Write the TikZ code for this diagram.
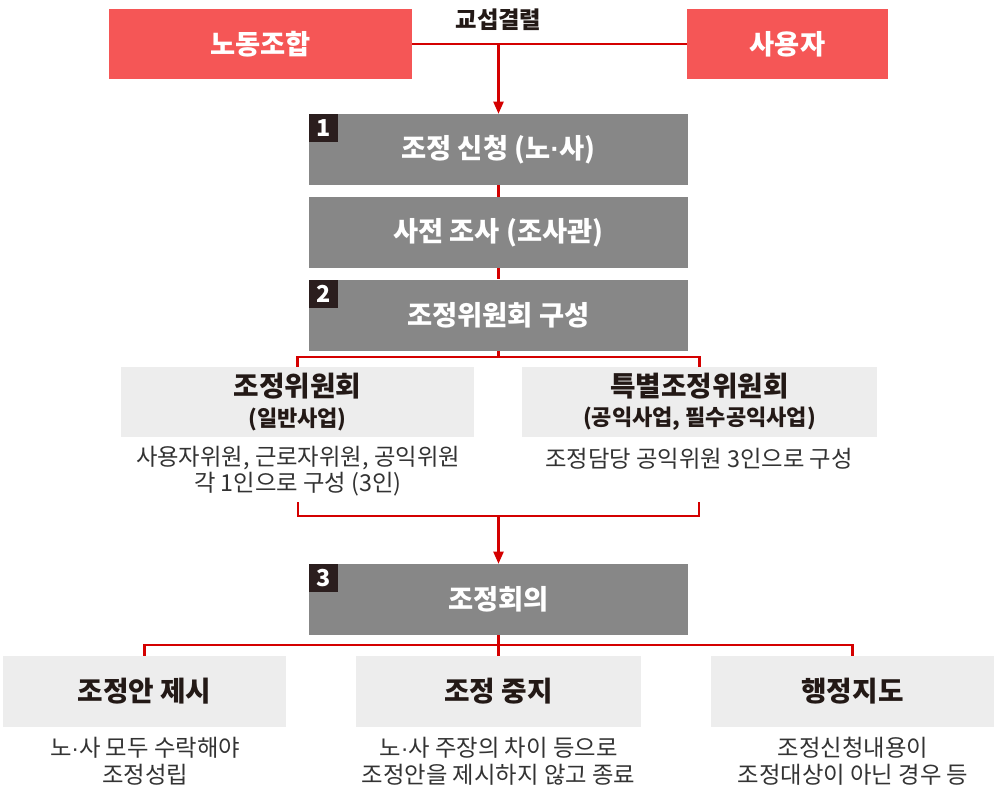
\documentclass[tikz,border=0pt]{standalone}
\usepackage{fontspec}
\setmainfont{Noto Sans CJK KR}
\newfontfamily\latinfont{Liberation Sans}
\newcommand{\mdot}{{\latinfont ·}}
\usetikzlibrary{arrows.meta}
\definecolor{boxred}{HTML}{F55656}
\definecolor{boxgray}{HTML}{878787}
\definecolor{boxlight}{HTML}{EDEDED}
\definecolor{badgecol}{HTML}{2B1E1E}
\definecolor{linered}{HTML}{D40000}
\definecolor{titlecol}{HTML}{231916}
\definecolor{desccol}{HTML}{333333}
\tikzset{
  redbox/.style={fill=boxred, text=white, font=\fontsize{20.5}{24}\selectfont\bfseries, minimum height=52.5pt, inner sep=0pt},
  graybox/.style={fill=boxgray, text=white, font=\fontsize{20.5}{24}\selectfont\bfseries, minimum width=284.25pt, minimum height=53.25pt, inner sep=0pt},
  lightbox/.style={fill=boxlight, text=titlecol, font=\fontsize{20.8}{25}\selectfont\bfseries, minimum height=52.5pt, inner sep=0pt, align=center},
  badge/.style={fill=badgecol, text=white, font=\fontsize{17.5}{17.5}\selectfont\bfseries, minimum width=21.75pt, minimum height=21pt, inner sep=0pt, anchor=north west},
  desc/.style={text=desccol, font=\fontsize{17.5}{19.5}\selectfont, align=center, inner sep=0pt},
  redline/.style={draw=linered, line width=1.6pt},
  redarrow/.style={redline, -{Triangle[length=9pt,width=7.5pt]}},
}
\begin{document}
\begin{tikzpicture}[x=0.75pt,y=-0.75pt]
\useasboundingbox (0,0) rectangle (997,801);
% top
\node[redbox, minimum width=227.25pt] (union) at (260.5,44) {노동조합};
\node[redbox, minimum width=150.75pt] (employer) at (787.5,44) {사용자};
\node[font=\fontsize{17.5}{20}\selectfont\bfseries, text=titlecol, inner sep=0pt] (fail) at (498.5,20) {교섭결렬};
\coordinate (j0) at (498.5,44);
% main steps
\node[graybox] (b1) at (498.5,149.5) {조정 신청 (노\mdot 사)};
\node[graybox] (b2) at (498.5,232.5) {사전 조사 (조사관)};
\node[graybox] (b3) at (498.5,315) {조정위원회 구성};
\node[badge] (n1) at (b1.north west) {1};
\node[badge] (n2) at (b3.north west) {2};
% committees
\node[lightbox, minimum width=264.75pt] (c1) at (297.5,402) {조정위원회\\[-3pt]{\fontsize{16.5}{19}\selectfont (일반사업)}};
\node[lightbox, minimum width=266.25pt] (c2) at (699.5,402) {특별조정위원회\\[-3pt]{\fontsize{16.5}{19}\selectfont (공익사업, 필수공익사업)}};
\node[desc] (t1) at (298,471.5) {사용자위원, 근로자위원, 공익위원\\각 1인으로 구성 (3인)};
\node[desc] (t2) at (699,459) {조정담당 공익위원 3인으로 구성};
\coordinate (j1) at (498.5,357);
\coordinate (m1) at (298,502);
\coordinate (m2) at (699,502);
\coordinate (j2) at (498.5,516);
% meeting
\node[graybox] (b4) at (498.5,599.5) {조정회의};
\node[badge] (n3) at (b4.north west) {3};
\coordinate (j3) at (498.5,645);
% outcomes
\node[lightbox, minimum width=212.25pt, minimum height=53.25pt] (d1) at (144.5,691.5) {조정안 제시};
\node[lightbox, minimum width=213.75pt, minimum height=53.25pt] (d2) at (498.5,691.5) {조정 중지};
\node[lightbox, minimum width=212.25pt, minimum height=53.25pt] (d3) at (852.5,691.5) {행정지도};
\node[desc, font=\fontsize{17.5}{20.25}\selectfont] (e1) at (145,761.5) {노\mdot 사 모두 수락해야\\조정성립};
\node[desc, font=\fontsize{17.5}{20.25}\selectfont] (e2) at (498.5,761.5) {노\mdot 사 주장의 차이 등으로\\조정안을 제시하지 않고 종료};
\node[desc, font=\fontsize{17.5}{20.25}\selectfont] (e3) at (853,761.5) {조정신청내용이\\조정대상이 아닌 경우 등};
% connectors
\draw[redline] (union.east) -- (employer.west);
\draw[redarrow] (j0) -- (b1.north);
\draw[redline] (b1.south) -- (b2.north);
\draw[redline] (b2.south) -- (b3.north);
\draw[redline] (b3.south) -- (j1);
\draw[redline] (c1.north) |- (j1) -| (c2.north);
\draw[redline] (m1) |- (j2) -| (m2);
\draw[redarrow] (j2) -- (b4.north);
\draw[redline] (b4.south) -- (j3);
\draw[redline] (d1.north) |- (j3) -| (d3.north);
\draw[redline] (j3) -- (d2.north);
\end{tikzpicture}
\end{document}
